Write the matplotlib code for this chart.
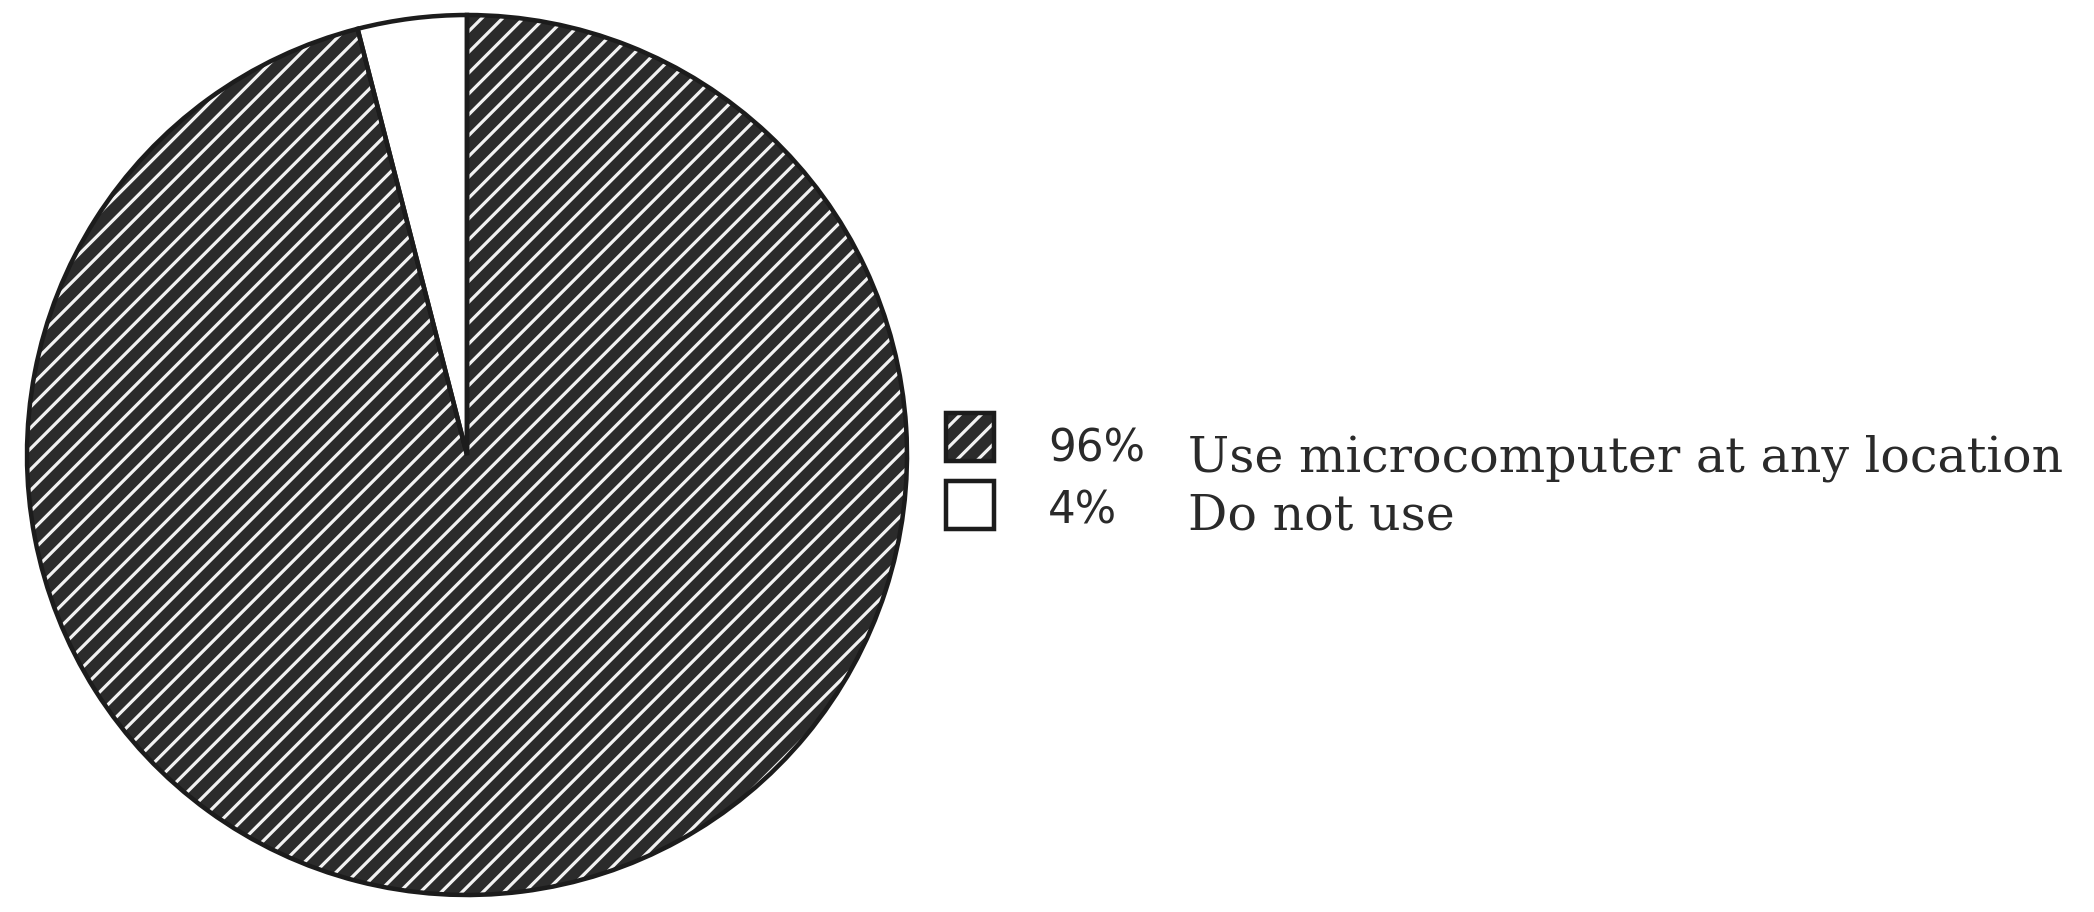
import matplotlib
matplotlib.use("Agg")
import matplotlib.pyplot as plt
from matplotlib.patches import Rectangle

# Data
categories = ["Do not use", "Use microcomputer at any location"]
values = [4, 96]
pct_labels = ["4%", "96%"]
legend_order = [1, 0]

DPI = 125
W, H = 2094, 912
px = 72.0 / DPI  # points per pixel
plt.rcParams['hatch.linewidth'] = 3.2 * px

fig = plt.figure(figsize=(W / DPI, H / DPI), dpi=DPI)
fig.patch.set_facecolor("white")

# pie axes (square in pixels)
cx, cy, r = 467, 455, 440
ax = fig.add_axes([(cx - r) / W, (H - (cy + r)) / H, 2 * r / W, 2 * r / H])

dark = "#2b2b2b"
ink = "#1c1c1c"
face = ["white", dark]
hatches = ["", "//"]

ax.pie(values, startangle=90, counterclock=True, colors=face, hatch=hatches,
       wedgeprops=dict(edgecolor="#f2f2f2", linewidth=0))
ax.pie(values, startangle=90, counterclock=True,
       colors=["none", "none"],
       wedgeprops=dict(edgecolor=ink, linewidth=4.5 * px, facecolor="none"))
ax.set_xlim(-1.0, 1.0)
ax.set_ylim(-1.0, 1.0)
ax.set_aspect("equal")
ax.axis("off")

# legend
box_x0, box_w = 946, 48
rows_top = [413, 481]
pct_base = [461, 524]
lab_base = [472, 529]
renderer = fig.canvas.get_renderer()


def fit_size(s, family, target_px, start=30):
    t = fig.text(0, 0, s, fontsize=start, family=family)
    w = t.get_window_extent(renderer).width
    t.remove()
    return start * target_px / w


pct_size = fit_size("96%", "DejaVu Sans", 97)
lab_size = fit_size("Use microcomputer at any location", "DejaVu Serif", 875)

for row, idx in enumerate(legend_order):
    top = rows_top[row]
    x0, y0 = box_x0 / W, (H - top - box_w) / H
    rect = Rectangle((x0, y0), box_w / W, box_w / H,
                     transform=fig.transFigure, facecolor=face[idx],
                     edgecolor="#f2f2f2", linewidth=0, hatch=hatches[idx])
    fig.patches.append(rect)
    outline = Rectangle((x0, y0), box_w / W, box_w / H,
                        transform=fig.transFigure, facecolor="none",
                        edgecolor=ink, linewidth=4.5 * px)
    fig.patches.append(outline)
    fig.text(1048 / W, (H - pct_base[row]) / H, pct_labels[idx], fontsize=pct_size,
             family="DejaVu Sans", color="#2a2a2a", va="baseline", ha="left")
    fig.text(1188 / W, (H - lab_base[row]) / H, categories[idx], fontsize=lab_size,
             family="DejaVu Serif", color="#2a2a2a", va="baseline", ha="left")

fig.savefig("out.png", dpi=DPI, facecolor="white")
